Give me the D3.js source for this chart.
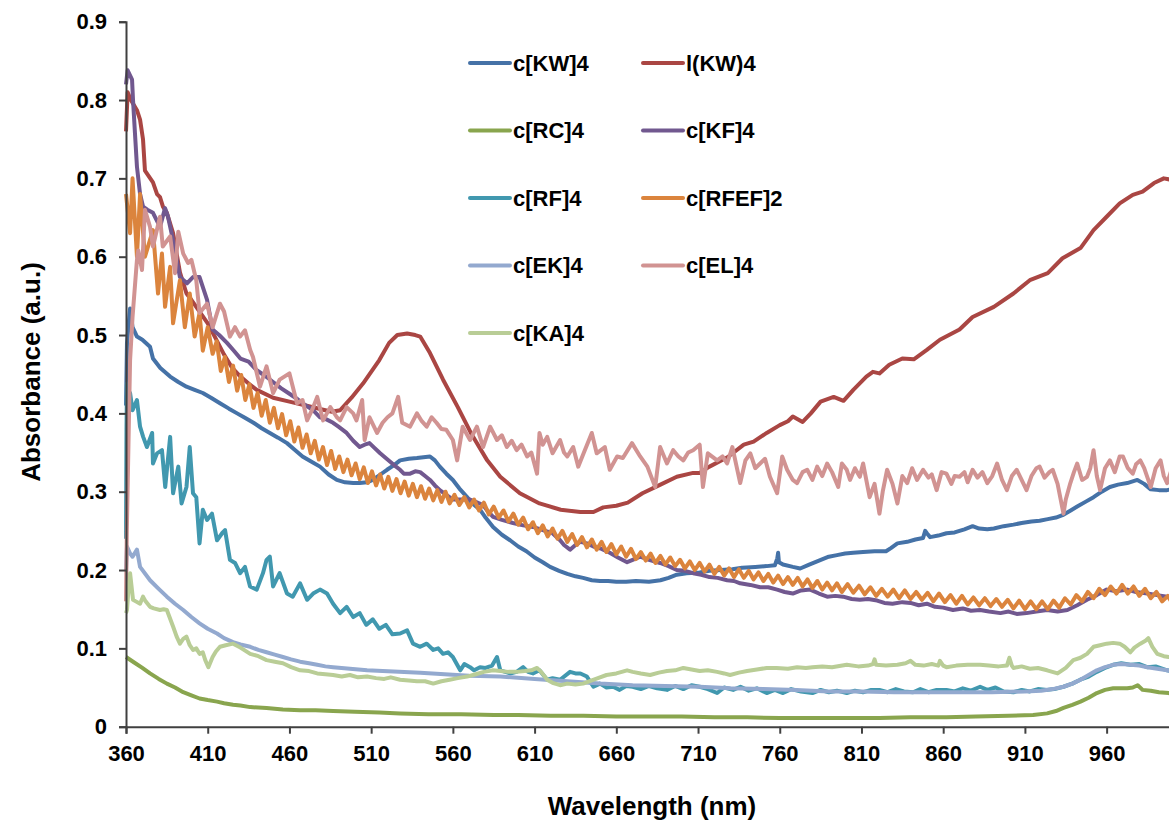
<!DOCTYPE html>
<html>
<head>
<meta charset="utf-8">
<script src="https://cdn.jsdelivr.net/npm/d3@7"></script>
<style>
  body { margin: 0; background: #fff; }
  svg { display: block; }
  text { font-family: "Liberation Sans", Arial, sans-serif; font-weight: bold; fill: #000; }
</style>
</head>
<body>
<svg id="chart" width="1169" height="824"></svg>
<script>
// wavelength ticks and absorbance ticks
var xTicks = [360, 410, 460, 510, 560, 610, 660, 710, 760, 810, 860, 910, 960];
var yTicks = [0, 0.1, 0.2, 0.3, 0.4, 0.5, 0.6, 0.7, 0.8, 0.9];
var yTickLabels = ["0", "0.1", "0.2", "0.3", "0.4", "0.5", "0.6", "0.7", "0.8", "0.9"];

var seriesNames = ["c[KW]4", "l(KW)4", "c[RC]4", "c[KF]4", "c[RF]4", "c[RFEF]2", "c[EK]4", "c[EL]4", "c[KA]4"];
var seriesColors = ["#4572A7", "#AA4643", "#89A54E", "#71588F", "#4198AF", "#DB843D", "#93A9CF", "#D19392", "#B9CD96"];

// [wavelength (nm), absorbance]
var kw = [[360,0.41],[360.6,0.49],[362.5,0.534],[364,0.51],[366.7,0.498],[370,0.494],[374.7,0.485],[376.5,0.47],[381,0.458],[387,0.447],[392,0.44],[397,0.434],[402,0.43],[407,0.426],[412,0.42],[417.5,0.413],[423,0.406],[428,0.40],[433,0.394],[438,0.388],[443,0.381],[448,0.375],[453,0.369],[458.5,0.362],[463,0.354],[468,0.345],[473,0.339],[478.7,0.332],[484,0.322],[489,0.315],[494,0.312],[499,0.311],[503,0.311],[507.5,0.312],[511,0.315],[515,0.321],[519.7,0.328],[524,0.334],[527.7,0.34],[533,0.342],[538,0.343],[542,0.344],[546,0.345],[549,0.34],[552,0.332],[556,0.323],[560,0.315],[564,0.304],[568.7,0.293],[572,0.285],[576.6,0.277],[580,0.267],[584.6,0.255],[590,0.245],[595,0.238],[600,0.23],[605,0.224],[610,0.216],[615,0.21],[619.5,0.204],[625,0.199],[630,0.195],[635,0.192],[639.7,0.19],[645,0.187],[650,0.186],[655,0.186],[660,0.185],[666,0.185],[672,0.186],[680,0.185],[687,0.187],[692,0.19],[697,0.194],[703,0.196],[711,0.197],[717,0.199],[724,0.20],[731,0.201],[737,0.203],[745,0.204],[752,0.205],[757,0.206],[758.5,0.215],[759,0.222],[759.5,0.21],[762,0.207],[768,0.204],[772.5,0.202],[778,0.207],[784,0.212],[790,0.217],[795,0.219],[800,0.221],[805,0.222],[811,0.223],[818,0.224],[825,0.224],[828,0.228],[832,0.234],[838,0.236],[843,0.239],[847.7,0.241],[849,0.25],[850,0.247],[852,0.242],[857,0.244],[862,0.247],[867,0.248],[873,0.252],[878,0.256],[882,0.253],[887,0.252],[891,0.253],[897,0.256],[903,0.258],[908,0.26],[914,0.262],[919,0.263],[924,0.265],[929,0.267],[933,0.27],[938,0.276],[942,0.281],[947,0.287],[952,0.293],[957,0.30],[962,0.306],[967,0.309],[972.6,0.311],[978.8,0.315],[983,0.31],[987,0.303],[992,0.302],[997,0.302],[1000,0.303]];

var lkw = [[360,0.76],[361,0.81],[363,0.80],[366.7,0.787],[368.6,0.775],[370.4,0.75],[371.6,0.71],[376.5,0.695],[379,0.68],[380.8,0.676],[382.6,0.664],[385,0.656],[388.8,0.63],[393,0.58],[397,0.553],[400,0.545],[405,0.53],[410,0.515],[415,0.495],[420,0.475],[425,0.458],[430,0.447],[435,0.438],[440,0.43],[450,0.42],[460,0.415],[470,0.41],[480,0.405],[486,0.402],[491,0.404],[498,0.42],[505,0.438],[510,0.453],[515,0.468],[521,0.49],[526,0.50],[532,0.502],[537,0.50],[540,0.498],[546,0.477],[554,0.443],[563,0.408],[571,0.375],[581,0.34],[589,0.319],[601,0.298],[613,0.285],[626,0.277],[638,0.274],[646,0.274],[652,0.28],[660,0.282],[667,0.286],[676,0.298],[687,0.309],[697,0.319],[707,0.324],[711,0.324],[717,0.332],[728,0.344],[738,0.36],[744,0.364],[752,0.375],[760,0.385],[765,0.39],[768,0.396],[774,0.389],[779,0.40],[785,0.415],[793,0.421],[799,0.416],[805,0.43],[813,0.447],[817,0.453],[821,0.451],[827,0.462],[835,0.47],[842,0.469],[850,0.481],[858,0.494],[870,0.507],[878,0.523],[891,0.536],[903,0.553],[913,0.57],[924,0.579],[933,0.598],[944,0.611],[952,0.634],[960,0.651],[968,0.668],[976,0.679],[982,0.683],[989,0.694],[995,0.70],[1000,0.698]];

var rc = [[360,0.089],[365,0.082],[370,0.075],[374.7,0.068],[380,0.061],[385,0.055],[390,0.05],[395,0.044],[400,0.04],[405,0.036],[410,0.034],[415.7,0.032],[420,0.03],[425.5,0.028],[430,0.027],[436,0.025],[446,0.024],[456,0.022],[466.5,0.021],[476,0.021],[486.7,0.02],[500,0.019],[515,0.018],[527.7,0.017],[545,0.016],[565,0.016],[585,0.015],[600,0.015],[620,0.014],[640,0.014],[660,0.013],[680,0.013],[700,0.013],[720,0.012],[740,0.012],[760,0.011],[780,0.011],[800,0.011],[821,0.011],[840,0.012],[862,0.012],[880,0.013],[900,0.014],[915,0.015],[923.6,0.017],[929,0.02],[933.6,0.024],[939,0.028],[944,0.032],[949,0.037],[954,0.043],[959,0.047],[964,0.049],[968,0.049],[972.6,0.049],[976,0.05],[979,0.053],[982,0.047],[987,0.046],[992,0.044],[998,0.043],[1000,0.042]];

var kf = [[360,0.82],[361,0.838],[363.7,0.826],[364.3,0.80],[365.5,0.757],[366.7,0.715],[368.6,0.68],[370.4,0.664],[373,0.66],[376.5,0.656],[380.8,0.638],[383.9,0.662],[385.7,0.651],[388.8,0.621],[393,0.574],[397.3,0.566],[401,0.574],[405,0.574],[409.6,0.545],[413,0.507],[417,0.50],[421.8,0.49],[426,0.48],[430,0.47],[435,0.466],[440,0.455],[445,0.448],[450,0.44],[455,0.432],[460,0.425],[465,0.418],[470,0.41],[474,0.405],[478.7,0.395],[482,0.393],[486.7,0.388],[490,0.383],[495,0.375],[499,0.365],[503,0.357],[506,0.36],[509,0.362],[512,0.356],[515.5,0.349],[520,0.341],[524,0.334],[527.7,0.328],[530,0.323],[533.8,0.323],[537,0.326],[540,0.325],[543,0.32],[546,0.315],[549,0.308],[552,0.302],[556,0.296],[560,0.29],[565,0.29],[570.5,0.29],[574,0.287],[578.5,0.283],[581,0.276],[584.6,0.268],[590,0.264],[596.8,0.26],[603,0.257],[609,0.255],[615,0.251],[621,0.247],[625.6,0.238],[628,0.232],[631.7,0.226],[635,0.232],[638,0.236],[642,0.234],[646,0.23],[651,0.227],[656,0.222],[661,0.216],[666.6,0.21],[670,0.213],[674.6,0.217],[680,0.213],[686.8,0.209],[692,0.205],[697,0.20],[702,0.199],[707,0.196],[712,0.194],[717,0.191],[722,0.19],[727.8,0.187],[732,0.186],[735.8,0.183],[742,0.181],[748,0.178],[753,0.178],[758.4,0.175],[763,0.172],[768,0.17],[773,0.174],[778.6,0.175],[784,0.17],[789,0.166],[794,0.167],[798.8,0.166],[804,0.163],[809,0.162],[814,0.163],[819.6,0.161],[824,0.158],[829,0.157],[835,0.159],[840,0.158],[845,0.155],[850,0.157],[855,0.153],[860,0.152],[866,0.149],[872,0.151],[877,0.148],[882.6,0.149],[888,0.147],[895,0.145],[900,0.147],[905,0.144],[911,0.145],[917,0.147],[923.6,0.149],[930,0.147],[936,0.149],[942,0.155],[948,0.162],[954,0.168],[960,0.175],[966,0.173],[972.6,0.175],[978,0.172],[985,0.17],[991,0.168],[997,0.166],[1000,0.165]];

var rf = [[360,0.24],[360.3,0.38],[360.6,0.438],[361,0.413],[362.5,0.426],[364,0.404],[366.7,0.417],[368.6,0.383],[370.5,0.37],[372.8,0.357],[376,0.375],[376.5,0.336],[379,0.349],[382,0.353],[384,0.306],[387,0.37],[388.8,0.298],[392,0.332],[394,0.285],[397,0.306],[399,0.357],[401,0.298],[403,0.293],[405,0.234],[407,0.277],[409.6,0.264],[412.6,0.272],[415.7,0.238],[418.8,0.247],[420.6,0.251],[423.6,0.213],[426.7,0.209],[429.8,0.196],[432.8,0.204],[435.9,0.179],[440,0.175],[443.8,0.196],[446,0.213],[448,0.217],[450,0.179],[454,0.196],[458.5,0.17],[462,0.166],[466.5,0.183],[470.8,0.162],[474.5,0.17],[478.7,0.175],[483,0.17],[486.7,0.157],[491,0.145],[495,0.153],[499,0.14],[503,0.145],[507,0.13],[511,0.137],[515,0.125],[519,0.13],[523,0.118],[527.7,0.119],[532,0.123],[535.6,0.106],[540,0.102],[544,0.106],[548,0.098],[551,0.1],[554,0.093],[557,0.095],[560,0.089],[564.5,0.072],[567,0.08],[570.5,0.076],[573,0.072],[576.6,0.076],[580,0.075],[584,0.078],[587,0.089],[589,0.072],[592,0.07],[595,0.068],[599,0.07],[603,0.076],[606,0.07],[609,0.068],[613,0.072],[617.7,0.06],[621,0.062],[625.6,0.06],[631.7,0.07],[635,0.068],[638,0.068],[642,0.064],[646,0.051],[650,0.055],[654,0.05],[658,0.051],[662,0.047],[666,0.052],[670,0.051],[675,0.048],[680,0.052],[685,0.049],[691,0.047],[696,0.052],[701,0.048],[706,0.053],[711,0.051],[716,0.048],[721.7,0.043],[726,0.05],[731.5,0.047],[736,0.051],[741,0.046],[746,0.049],[752,0.043],[757,0.047],[762,0.043],[767,0.048],[773,0.045],[780,0.043],[785,0.047],[790,0.044],[795,0.046],[801,0.043],[806,0.046],[811,0.044],[816,0.047],[821,0.047],[826,0.044],[831,0.048],[836,0.045],[841.6,0.044],[846,0.048],[851,0.044],[856,0.047],[862,0.047],[867,0.045],[872,0.049],[877,0.046],[882.6,0.051],[887,0.047],[892,0.05],[897,0.045],[903,0.044],[908,0.047],[913,0.045],[918,0.048],[923.6,0.047],[928,0.048],[933.6,0.051],[939,0.055],[943.9,0.06],[949,0.064],[954,0.07],[959,0.075],[964,0.079],[969,0.081],[974.5,0.079],[980,0.08],[984.8,0.076],[990,0.077],[997,0.072],[1000,0.071]];

var rfef = [[360,0.68],[362.5,0.63],[364,0.70],[366.7,0.60],[368.6,0.68],[371.6,0.60],[376.5,0.634],[379.6,0.553],[382,0.604],[383.9,0.536],[387,0.587],[388.8,0.515],[393,0.57],[396,0.51],[399,0.553],[402,0.498],[405,0.528],[407,0.48],[410,0.51],[413,0.476],
  [415.5,0.492],[418,0.454],[420.5,0.472],[423,0.440],[425.5,0.461],[428,0.429],[430.5,0.449],[433,0.417],[435.5,0.437],[438,0.407],[440.5,0.426],[443,0.397],[445.5,0.417],[448,0.388],[450.5,0.407],[453,0.381],[455.5,0.399],[458,0.372],[460.5,0.390],[463,0.364],[465.5,0.382],[468,0.356],[470.5,0.373],[473,0.349],[475.5,0.365],[478,0.341],[480.5,0.357],[483,0.334],[485.5,0.352],[488,0.329],[490.5,0.345],[493,0.325],[495.5,0.341],[498,0.321],[500.5,0.336],[503,0.316],[505.5,0.331],[508,0.311],[510.5,0.326],[513,0.308],[515.5,0.322],[518,0.304],[520.5,0.319],[523,0.301],[525.5,0.316],[528,0.298],[530.5,0.313],[533,0.295],[535.5,0.310],[538,0.293],[540.5,0.307],[543,0.291],[545.5,0.304],[548,0.289],[550.5,0.302],[553,0.287],[555.5,0.300],[558,0.285],
  [561,0.296],[564,0.283],[567,0.293],[570,0.280],[573,0.290],[576,0.276],[579,0.286],[582,0.271],[585,0.281],[588,0.267],[591,0.276],[594,0.262],[597,0.272],[600,0.258],[603,0.267],[606,0.252],[609,0.261],[612,0.247],[615,0.257],[618,0.243],[621,0.253],[624,0.240],[627,0.250],[630,0.236],[633,0.246],[636,0.232],[639,0.242],[642,0.229],[645,0.239],[648,0.226],[651,0.236],[654,0.223],[657,0.233],[660,0.220],[663,0.230],[666,0.217],[669,0.227],[672,0.214],[675,0.223],[678,0.212],[681,0.221],[684,0.209],[687,0.218],[690,0.207],[693,0.216],[696,0.205],[699,0.213],[702,0.202],[705,0.211],[708,0.200],[711,0.209],[714,0.198],[717,0.207],[720,0.195],[723,0.204],[726,0.193],[729,0.202],[732,0.191],[735,0.201],[738,0.190],[741,0.199],[744,0.188],[747,0.197],[750,0.186],[753,0.195],[756,0.184],[759,0.193],[762,0.182],[765,0.191],[768,0.181],[771,0.190],[774,0.179],[777,0.188],[780,0.177],[783,0.186],[786,0.175],[789,0.184],[792,0.174],[795,0.183],[798,0.172],
  [801.5,0.182],[805,0.171],[808.5,0.180],[812,0.169],[815.5,0.178],[819,0.167],[822.5,0.176],[826,0.166],[829.5,0.175],[833,0.164],[836.5,0.174],[840,0.163],[843.5,0.172],[847,0.162],[850.5,0.171],[854,0.160],[857.5,0.170],[861,0.159],[864.5,0.168],[868,0.157],[871.5,0.167],[875,0.156],[878.5,0.165],[882,0.155],[885.5,0.164],[889,0.154],[892.5,0.163],[896,0.153],[899.5,0.162],[903,0.151],[906.5,0.161],[910,0.150],[913.5,0.160],[917,0.150],[920.5,0.160],[924,0.150],[927.5,0.161],[931,0.152],[934.5,0.164],[938,0.156],[941.5,0.168],[945,0.160],[948.5,0.172],[952,0.164],[955.5,0.176],[959,0.168],[962.5,0.179],[966,0.170],[969.5,0.181],[973,0.170],[976.5,0.179],[980,0.167],[983.5,0.176],[987,0.164],[990.5,0.172],[994,0.160],[997.5,0.167],[1000,0.158]];

var ek = [[360,0.20],[360.6,0.23],[362.5,0.221],[364,0.217],[366.7,0.226],[368.6,0.204],[374.7,0.187],[380,0.176],[385,0.166],[390,0.157],[395,0.149],[400,0.14],[405,0.132],[410,0.125],[415.7,0.119],[420,0.113],[425.5,0.108],[430,0.105],[436,0.102],[441,0.098],[446,0.095],[451,0.092],[456,0.089],[461,0.086],[466.5,0.083],[472,0.081],[477,0.079],[482,0.077],[486.7,0.076],[497,0.074],[507.5,0.072],[517,0.071],[527,0.07],[540,0.069],[555,0.067],[570,0.065],[589,0.064],[610,0.061],[630,0.058],[650,0.055],[670,0.053],[690,0.052],[711,0.051],[730,0.049],[750,0.048],[770,0.047],[790,0.045],[810,0.045],[830,0.044],[850,0.044],[870,0.044],[890,0.044],[910,0.045],[920,0.046],[927,0.048],[933.6,0.051],[939,0.055],[944,0.06],[949,0.066],[954,0.072],[959,0.076],[964,0.079],[969,0.08],[974.5,0.079],[980,0.078],[985,0.076],[991,0.074],[997,0.072],[1000,0.071]];

var el = [[360,0.16],[360.5,0.25],[361.5,0.36],[362.5,0.468],[364,0.523],[366.7,0.596],[367.5,0.608],[369.8,0.583],[371.6,0.66],[374.7,0.638],[376.5,0.613],[380.8,0.651],[382.5,0.613],[387,0.626],[390,0.579],[392,0.632],[395,0.604],[398,0.592],[400,0.596],[403,0.57],[405,0.528],[409.6,0.54],[413,0.51],[417.5,0.54],[420,0.53],[423.6,0.498],[426.7,0.51],[429.8,0.498],[432.8,0.506],[436,0.481],[437.7,0.472],[442,0.434],[446,0.46],[450,0.426],[454,0.443],[460,0.451],[464.6,0.413],[468,0.417],[470.8,0.391],[474,0.405],[477,0.421],[480.6,0.391],[485,0.408],[489,0.395],[491,0.391],[495,0.408],[499,0.40],[501,0.391],[504.5,0.417],[506,0.366],[509,0.395],[513.6,0.375],[517,0.388],[520,0.395],[523,0.40],[526.5,0.421],[529,0.388],[533.8,0.383],[538,0.40],[541,0.39],[544,0.383],[547,0.395],[550,0.388],[553,0.38],[556,0.379],[560,0.366],[562.6,0.34],[566,0.383],[570.5,0.366],[574.7,0.383],[578.5,0.357],[582.8,0.383],[587,0.366],[590,0.372],[593,0.357],[596,0.365],[599,0.353],[602,0.36],[605.4,0.345],[608,0.35],[611.5,0.323],[613,0.375],[615,0.36],[617.7,0.37],[621,0.349],[625.6,0.366],[628,0.35],[630,0.345],[633.6,0.357],[636.7,0.332],[640,0.349],[645,0.375],[648,0.349],[653,0.357],[656,0.328],[660.5,0.345],[664,0.343],[669.6,0.362],[674.6,0.345],[679,0.332],[683.8,0.306],[686.8,0.357],[691,0.336],[694.8,0.353],[698,0.345],[701,0.34],[704,0.35],[707,0.353],[711,0.36],[713,0.306],[716,0.349],[721.7,0.34],[725,0.345],[727.8,0.336],[731,0.357],[735.8,0.311],[739,0.34],[742,0.349],[745,0.33],[748,0.336],[751,0.342],[754,0.319],[758.4,0.298],[761.5,0.345],[764.5,0.328],[768,0.315],[770.6,0.311],[774,0.325],[776.8,0.328],[780,0.315],[782.9,0.332],[786,0.32],[789,0.336],[792,0.325],[795.8,0.306],[798,0.336],[801,0.328],[803,0.315],[806,0.33],[809,0.319],[811,0.336],[815,0.293],[818,0.31],[821,0.272],[823,0.30],[825.7,0.328],[829,0.31],[832,0.285],[835,0.32],[838,0.311],[841,0.33],[844,0.315],[847.7,0.328],[851,0.318],[853,0.322],[856,0.302],[859,0.325],[862,0.323],[865,0.31],[867,0.32],[870,0.319],[873,0.325],[875,0.312],[878,0.328],[881,0.318],[884,0.325],[887,0.311],[890,0.32],[893,0.336],[896,0.315],[899,0.302],[902,0.32],[905,0.328],[908,0.315],[911,0.302],[914,0.32],[917,0.33],[919,0.332],[922,0.318],[925,0.325],[927,0.328],[930,0.31],[933.6,0.272],[935,0.29],[937.8,0.311],[940,0.325],[942,0.336],[945,0.315],[948,0.319],[950,0.33],[952,0.353],[954,0.32],[956,0.302],[959,0.33],[962,0.34],[965,0.325],[968,0.345],[970,0.345],[973,0.33],[976,0.323],[978,0.335],[980.6,0.34],[983,0.33],[985,0.318],[987,0.306],[990,0.33],[993,0.34],[995,0.32],[997,0.311],[1000,0.33]];

var ka = [[360,0.145],[360.6,0.149],[361.5,0.175],[362.5,0.196],[364.3,0.162],[366,0.16],[368.6,0.157],[370.4,0.166],[372,0.16],[374.7,0.153],[377,0.151],[380.8,0.149],[383,0.15],[385,0.149],[388.8,0.128],[391,0.115],[393,0.106],[395,0.112],[397,0.115],[399,0.104],[401,0.098],[403,0.1],[405,0.093],[407,0.095],[408.5,0.085],[410.4,0.076],[413,0.089],[415,0.096],[417.5,0.102],[421,0.104],[425.5,0.106],[430,0.101],[436,0.093],[441,0.09],[446,0.085],[451,0.083],[456,0.081],[461,0.076],[466.5,0.072],[472,0.071],[477,0.068],[482,0.067],[486.7,0.066],[492,0.064],[497,0.066],[502,0.063],[507.5,0.064],[513,0.062],[518,0.061],[522,0.063],[527.7,0.06],[533,0.059],[538,0.058],[543,0.058],[548,0.055],[553,0.058],[558,0.06],[563,0.062],[568.7,0.064],[574,0.067],[579,0.07],[584.6,0.072],[589,0.071],[594,0.07],[599,0.07],[604,0.071],[608,0.072],[611.5,0.075],[614,0.07],[617.7,0.06],[621,0.056],[625.6,0.053],[630,0.055],[635,0.054],[639.7,0.055],[645,0.059],[650,0.063],[654,0.066],[660,0.068],[666.6,0.072],[670,0.07],[675,0.068],[680.7,0.066],[686,0.069],[691,0.071],[696,0.072],[701,0.075],[706,0.073],[711,0.071],[716,0.072],[721.7,0.07],[726,0.068],[729.6,0.066],[735,0.069],[740,0.071],[746,0.073],[752,0.075],[758,0.075],[765,0.074],[770.6,0.076],[776,0.075],[780,0.076],[786,0.077],[792,0.076],[801,0.079],[808,0.077],[814,0.078],[817,0.08],[818,0.086],[819,0.079],[825,0.078],[832,0.079],[837,0.081],[840,0.084],[843,0.079],[848,0.078],[853,0.08],[857,0.078],[858,0.084],[860,0.078],[862,0.076],[868,0.078],[875,0.079],[882.6,0.079],[888,0.078],[894,0.077],[899,0.078],[900.5,0.088],[902,0.078],[903,0.075],[908,0.077],[913,0.074],[918,0.075],[923.6,0.072],[930,0.068],[935,0.075],[939.6,0.085],[944,0.088],[948,0.093],[952,0.102],[956,0.104],[960,0.106],[964,0.107],[968,0.106],[971,0.102],[974.5,0.095],[977,0.101],[980.6,0.106],[984,0.11],[985.5,0.113],[988,0.102],[991,0.093],[995,0.09],[998,0.089],[1000,0.089]];

var seriesData = [kw, lkw, rc, kf, rf, rfef, ek, el, ka];

var svg = d3.select("#chart");
var x = d3.scaleLinear().domain([360, 1000]).range([126, 1172]);
var y = d3.scaleLinear().domain([0, 0.9]).range([726.7, 21.7]);

var line = d3.line()
    .x(function (d) { return x(d[0]); })
    .y(function (d) { return y(d[1]); });

// data lines
svg.append("g").selectAll("path")
    .data(seriesData)
    .enter()
    .append("path")
    .attr("d", line)
    .attr("fill", "none")
    .attr("stroke", function (d, i) { return seriesColors[i]; })
    .attr("stroke-width", 4)
    .attr("stroke-linejoin", "round");

// axes
var yAxis = d3.axisLeft(y).tickValues(yTicks)
    .tickFormat(function (d, i) { return yTickLabels[i]; })
    .tickSize(7).tickPadding(12);
var xAxis = d3.axisBottom(x).tickValues(xTicks).tickSize(7).tickPadding(12);

var gy = svg.append("g").attr("transform", "translate(126,0)").call(yAxis);
var gx = svg.append("g").attr("transform", "translate(0,726.7)").call(xAxis);

[gy, gx].forEach(function (g) {
    g.selectAll("path").attr("stroke", "#404040").attr("stroke-width", 2);
    g.selectAll("line").attr("stroke", "#404040").attr("stroke-width", 2);
    g.selectAll("text").attr("font-size", "22px")
        .attr("font-family", "'Liberation Sans', Arial, sans-serif")
        .attr("font-weight", "bold").attr("fill", "#000");
});

// axis titles
svg.append("text")
    .attr("x", 652).attr("y", 815)
    .attr("text-anchor", "middle")
    .attr("font-size", "26px")
    .text("Wavelength (nm)");

svg.append("text")
    .attr("transform", "translate(40,372) rotate(-90)")
    .attr("text-anchor", "middle")
    .attr("font-size", "26px")
    .text("Absorbance (a.u.)");

// legend, two columns
var legend = svg.append("g");
seriesNames.forEach(function (name, i) {
    var col = i % 2, row = Math.floor(i / 2);
    var lx = col == 0 ? 470 : 643;
    var ly = 63 + row * 67.5;
    legend.append("line")
        .attr("x1", lx).attr("x2", lx + 40)
        .attr("y1", ly).attr("y2", ly)
        .attr("stroke", seriesColors[i])
        .attr("stroke-width", 4)
        .attr("stroke-linecap", "round");
    legend.append("text")
        .attr("x", lx + 43).attr("y", ly)
        .attr("dy", "0.36em")
        .attr("font-size", "22px")
        .text(name);
});
</script>
</body>
</html>
